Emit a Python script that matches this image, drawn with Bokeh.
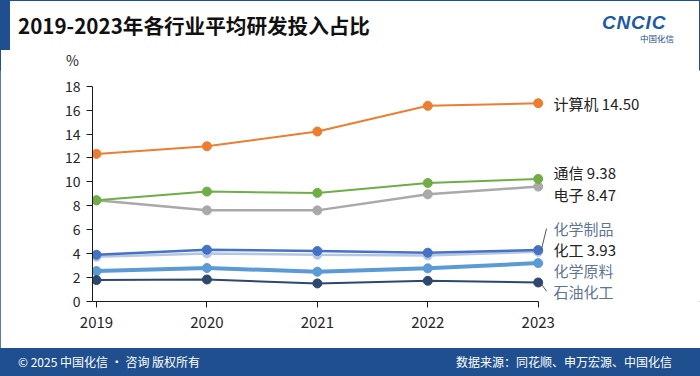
from bokeh.plotting import figure
from bokeh.models import Range1d, FixedTicker, Label, Arrow, Div
from bokeh.layouts import column
from bokeh.embed import file_html
from bokeh.resources import INLINE

# ---------------- data ----------------
years = [2019, 2020, 2021, 2022, 2023]
computer = [12.34, 12.98, 14.21, 16.36, 16.58]        # 计算机
telecom = [8.46, 9.19, 9.08, 9.91, 10.25]             # 通信
electronics = [8.46, 7.62, 7.62, 8.96, 9.61]          # 电子
chem_products = [3.91, 4.33, 4.22, 4.08, 4.30]        # 化学制品
chem_industry = [3.74, 4.02, 3.91, 3.85, 4.16]        # 化工
chem_raw = [2.54, 2.80, 2.49, 2.77, 3.21]             # 化学原料
petrochem = [1.79, 1.84, 1.51, 1.73, 1.59]            # 石油化工
y_ticks = [0, 2, 4, 6, 8, 10, 12, 14, 16, 18]
x_labels = ["2019", "2020", "2021", "2022", "2023"]

title_text = "2019-2023年各行业平均研发投入占比"
footer_left = "© 2025 中国化信 · 咨询 版权所有"
footer_right = "数据来源：同花顺、申万宏源、中国化信"

FONT = "Noto Sans CJK SC"
BLUE = "#1f4f8e"
DARK = "#222222"
MUTED = "#5d7594"

# ---------------- geometry (reference pixel space) ----------------
W = 700
HEAD_H, MAIN_H, FOOT_H = 70, 278, 28
FL = 92            # frame left
ZERO_Y = 301       # pixel row of y = 0
PX_YR = 110.43     # pixels per year
PX_UNIT = 11.96    # pixels per percent
X0 = years[0] - (96 - FL) / PX_YR
X1 = X0 + (W - FL) / PX_YR
Y1 = (ZERO_Y - HEAD_H) / PX_UNIT


def cx(rx):
    return X0 + (rx - FL) / PX_YR


def cy(ry):
    return (ZERO_Y - ry) / PX_UNIT


p = figure(width=W, height=MAIN_H, x_range=Range1d(X0, X1), y_range=Range1d(0, Y1),
           output_backend="svg", toolbar_location=None,
           min_border_left=FL, min_border_right=0, min_border_top=0,
           min_border_bottom=HEAD_H + MAIN_H - ZERO_Y)
p.xgrid.visible = False
p.ygrid.visible = False
p.outline_line_color = None

p.xaxis.bounds = (X0, years[-1])
p.yaxis.bounds = (y_ticks[0], y_ticks[-1])
p.xaxis.ticker = FixedTicker(ticks=years)
p.yaxis.ticker = FixedTicker(ticks=y_ticks)
p.xaxis.major_label_overrides = {y: s for y, s in zip(years, x_labels)}
for ax in (p.xaxis[0], p.yaxis[0]):
    ax.axis_line_color = "#1a1a1a"
    ax.axis_line_width = 1
    ax.major_tick_line_color = "#1a1a1a"
    ax.major_tick_in = 0
    ax.major_tick_out = 6
    ax.minor_tick_line_color = None
    ax.major_label_text_font = FONT
    ax.major_label_text_color = "#262626"
p.xaxis.major_label_text_font_size = "15px"
p.yaxis.major_label_text_font_size = "14px"
p.xaxis.major_label_standoff = 9
p.yaxis.major_label_standoff = 6

series = [
    (chem_industry, "#b4c6e4", 2.5),
    (electronics, "#a9a9a9", 2.5),
    (telecom, "#70ad47", 2),
    (computer, "#ed7d31", 2),
    (chem_raw, "#5b9bd5", 4),
    (chem_products, "#4472c4", 2.5),
    (petrochem, "#2c4770", 2),
]
for vals, col, lw in series:
    p.line(years, vals, line_color=col, line_width=lw)
    p.scatter(years, vals, size=9, fill_color=col, line_color=col)

end_labels = [
    ("计算机 14.50", 103, DARK),
    ("通信 9.38", 172, DARK),
    ("电子 8.47", 193.5, DARK),
    ("化学制品", 227.5, MUTED),
    ("化工 3.93", 249, DARK),
    ("化学原料", 270, MUTED),
    ("石油化工", 290.5, MUTED),
]
for txt, ry, col in end_labels:
    p.add_layout(Label(x=cx(553), y=cy(ry), text=txt, text_font=FONT,
                       text_font_size="15px", text_baseline="middle", text_color=col))

p.add_layout(Arrow(end=None, x_start=cx(546), y_start=cy(228), x_end=cx(540.7), y_end=cy(250),
                   line_color="#555555", line_width=1))
p.add_layout(Arrow(end=None, x_start=cx(540.7), y_start=cy(283.3), x_end=cx(546), y_end=cy(290.7),
                   line_color="#555555", line_width=1))

header_html = f"""
<div style="position:relative;width:{W}px;height:{HEAD_H}px;font-family:'{FONT}';">
  <div style="position:absolute;left:0;top:0;width:10px;height:50px;background:{BLUE};"></div>
  <div style="position:absolute;left:18px;top:9px;height:32px;line-height:32px;font-size:20.6px;
              font-weight:bold;color:#111;white-space:nowrap;">{title_text}</div>
  <div style="position:absolute;left:602px;top:14px;width:80px;height:18px;line-height:18px;font-family:'Liberation Sans';
              font-size:19px;font-weight:bold;font-style:italic;color:#1d5aa6;letter-spacing:0.8px;
              white-space:nowrap;">CNCIC</div>
  <div style="position:absolute;left:640px;top:33px;height:10px;line-height:10px;font-size:8.5px;color:#1d4f8c;
              white-space:nowrap;">中国化信</div>
  <div style="position:absolute;left:66px;top:51px;line-height:18px;font-size:14px;color:#262626;">%</div>
</div>
"""
header = Div(text=header_html, width=W, height=HEAD_H, margin=0)

footer_html = f"""
<div style="position:relative;width:{W}px;height:{FOOT_H}px;background:{BLUE};font-family:'{FONT}';
            color:white;font-size:12px;">
  <div style="position:absolute;left:18px;top:6px;line-height:16px;white-space:nowrap;">{footer_left}</div>
  <div style="position:absolute;right:28px;top:6px;line-height:16px;white-space:nowrap;">{footer_right}</div>
</div>
"""
footer = Div(text=footer_html, width=W, height=FOOT_H, margin=0)

layout = column(header, p, footer, spacing=0,
                styles={"outline": f"1.5px solid {BLUE}", "outline-offset": "-1.5px"})
open("out.html", "w").write(file_html(layout, INLINE))
